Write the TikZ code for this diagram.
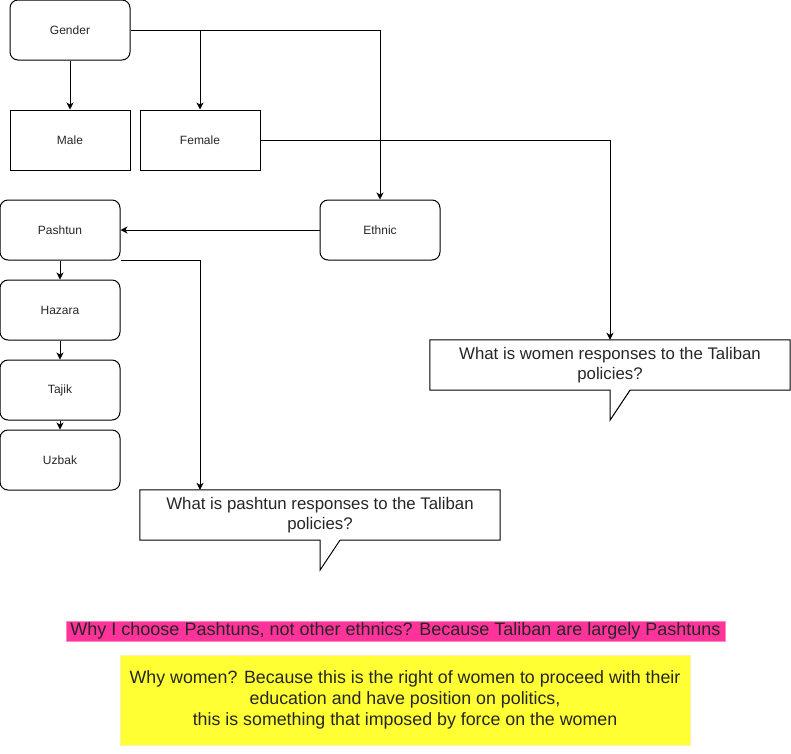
\documentclass[tikz,border=0pt]{standalone}
\usepackage{fontspec}
\setmainfont{Liberation Sans}
\usetikzlibrary{arrows.meta}

\definecolor{hotpink}{HTML}{FF3399}
\definecolor{pinkline}{HTML}{FF85C2}
\definecolor{lemon}{HTML}{FFFF33}
\definecolor{lemonline}{HTML}{FFF2A8}

\begin{document}
\begin{tikzpicture}[x=1pt, y=-1pt,
    box/.style = {draw=black, line width=1pt, minimum width=120pt, minimum height=60pt, inner sep=0pt, font=\fontsize{12}{14}\selectfont, text=black!85},
    rbox/.style = {box, rounded corners=8pt},
    ask/.style = {minimum width=360pt, minimum height=50pt, inner sep=0pt, align=center, font=\fontsize{16.8}{20}\selectfont, text=black!85},
    arr/.style = {line width=1pt, -{Stealth[length=7pt, width=7pt, inset=2pt]}}]
            \useasboundingbox (0,0) rectangle (791,753);

            \node[rbox] (gender) at ( 70, 30) {Gender};
            \node[box]  (male)   at ( 70,140) {Male};
            \node[box]  (female) at (200,140) {Female};
            \node[rbox] (ethnic) at (380,230) {Ethnic};

            \node[rbox] (pashtun) at (60,230) {Pashtun};
            \node[rbox] (hazara)  at (60,310) {Hazara};
            \node[rbox] (tajik)   at (60,390) {Tajik};
            \node[rbox] (uzbak)   at (60,460) {Uzbak};

            \node[ask] (wq) at (610,365) {What is women responses to the Taliban\\policies?};
            \node[ask] (pq) at (320,515) {What is pashtun responses to the Taliban\\policies?};

            % speech bubbles
            \draw[line width=1pt] (wq.north west) -- (wq.north east) -- (wq.south east) -- ([xshift=20pt]wq.south)
                -- ([yshift=-30pt]wq.south) -- (wq.south) -- (wq.south west) -- cycle;
            \draw[line width=1pt] (pq.north west) -- (pq.north east) -- (pq.south east) -- ([xshift=20pt]pq.south)
                -- ([yshift=-30pt]pq.south) -- (pq.south) -- (pq.south west) -- cycle;

            \draw[arr] (gender) -- (male);
            \draw[arr] (gender.east) -| (female.north);
            \draw[arr] (gender.east) -| (ethnic.north);
            \draw[arr] (female.east) -| (wq.north);
            \draw[arr] (ethnic) -- (pashtun);
            \draw[arr] (pashtun.south east) -| ([xshift=-120pt]pq.north);
            \draw[arr] (pashtun) -- (hazara);
            \draw[arr] (hazara) -- (tajik);
            \draw[arr] (tajik) -- (uzbak);

            \node[fill=hotpink, draw=pinkline, line width=0.8pt, minimum width=659pt, minimum height=20pt, inner sep=0pt,
                font=\fontsize{18}{20}\selectfont, text=black!85] (why1) at (395.5,631)
                {Why I choose Pashtuns, not other ethnics? Because Taliban are largely Pashtuns};
            \node[fill=lemon, draw=lemonline, line width=0.8pt, minimum width=570pt, minimum height=90pt, inner sep=0pt, align=center,
                font=\fontsize{17.8}{21}\selectfont, text=black!85] (why2) at (405,700)
                {Why women? Because this is the right of women to proceed with their\\education and have position on politics,\\this is something that imposed by force on the women};
        \end{tikzpicture}
\end{document}
